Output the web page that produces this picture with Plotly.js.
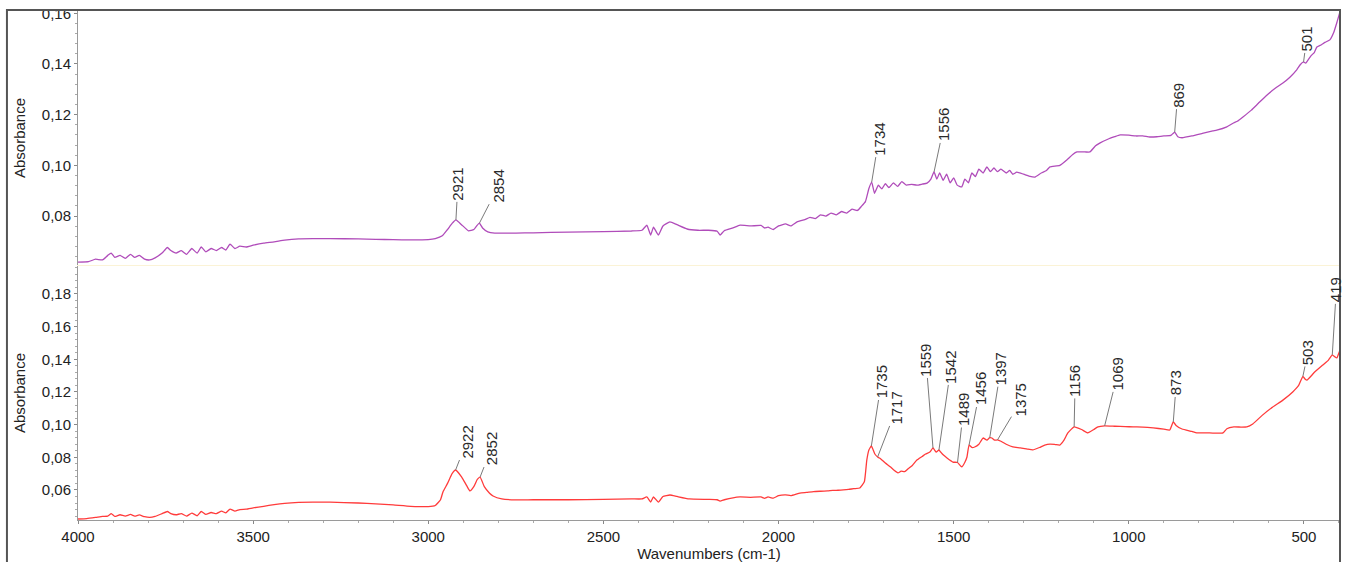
<!DOCTYPE html>
<html>
<head>
<meta charset="utf-8">
<script src="https://cdn.plot.ly/plotly-3.0.1.min.js"></script>
<style>html,body{margin:0;padding:0;background:#fff;}#chart{width:1346px;height:562px;}</style>
</head>
<body>
<div id="chart"></div>
<script>
// ---- Top spectrum (purple) ----
const topWn = [4000,3970,3950,3930,3915,3905,3895,3880,3865,3850,3838,3825,3810,3795,3780,3760,3745,3735,3720,3705,3690,3675,3660,3648,3635,3620,3605,3590,3578,3566,3552,3538,3520,3500,3470,3440,3410,3370,3330,3280,3200,3150,3100,3050,3000,2980,2960,2945,2932,2921,2905,2885,2870,2862,2854,2845,2830,2810,2750,2700,2600,2500,2420,2390,2376,2365,2357,2343,2330,2310,2290,2261,2230,2200,2175,2167,2155,2130,2110,2080,2050,2040,2030,2015,2000,1980,1965,1947,1925,1910,1895,1880,1865,1850,1835,1820,1805,1790,1775,1763,1752,1742,1734,1726,1715,1705,1695,1685,1672,1660,1648,1635,1620,1605,1590,1576,1565,1556,1548,1540,1530,1520,1510,1500,1490,1477,1468,1458,1448,1438,1428,1416,1405,1395,1385,1375,1365,1350,1340,1331,1320,1300,1285,1268,1250,1235,1225,1197,1175,1160,1148,1125,1111,1095,1083,1060,1040,1025,1000,980,960,940,920,900,880,869,860,848,820,790,760,749,720,700,690,674,650,630,606,580,560,540,520,510,501,495,480,470,463,450,440,426,415,405,398];
const topAbs = [0.0618,0.0620,0.0630,0.0627,0.0645,0.0654,0.0637,0.0645,0.0633,0.0649,0.0637,0.0645,0.0630,0.0627,0.0635,0.0654,0.0676,0.0664,0.0654,0.0664,0.0649,0.0672,0.0654,0.0678,0.0659,0.0672,0.0664,0.0676,0.0666,0.0689,0.0672,0.0681,0.0678,0.0685,0.0693,0.0698,0.0705,0.0710,0.0711,0.0711,0.0710,0.0708,0.0707,0.0706,0.0707,0.0711,0.0722,0.0747,0.0771,0.0785,0.0766,0.0742,0.0747,0.0761,0.0772,0.0753,0.0738,0.0733,0.0733,0.0734,0.0737,0.0739,0.0741,0.0744,0.0764,0.0725,0.0756,0.0725,0.0761,0.0777,0.0766,0.0749,0.0744,0.0744,0.0740,0.0725,0.0742,0.0753,0.0764,0.0761,0.0763,0.0753,0.0756,0.0747,0.0761,0.0769,0.0761,0.0777,0.0786,0.0795,0.0790,0.0805,0.0800,0.0812,0.0805,0.0818,0.0812,0.0827,0.0822,0.0839,0.0857,0.0909,0.0934,0.0890,0.0922,0.0907,0.0928,0.0912,0.0931,0.0917,0.0936,0.0922,0.0925,0.0922,0.0926,0.0930,0.0946,0.0974,0.0946,0.0970,0.0941,0.0965,0.0931,0.0951,0.0922,0.0915,0.0946,0.0931,0.0970,0.0956,0.0985,0.0970,0.0994,0.0975,0.0990,0.0975,0.0985,0.0970,0.0980,0.0965,0.0973,0.0965,0.0958,0.0954,0.0970,0.0980,0.0994,0.1000,0.1024,0.1043,0.1053,0.1053,0.1053,0.1077,0.1088,0.1103,0.1113,0.1120,0.1119,0.1116,0.1116,0.1112,0.1113,0.1116,0.1118,0.1131,0.1113,0.1109,0.1116,0.1126,0.1136,0.1139,0.1152,0.1168,0.1174,0.1191,0.1218,0.1245,0.1277,0.1306,0.1325,0.1348,0.1378,0.1398,0.1408,0.1403,0.1432,0.1446,0.1467,0.1476,0.1485,0.1495,0.1524,0.1568,0.1601];

// ---- Bottom spectrum (red) ----
const botWn = [4000,3975,3950,3930,3915,3905,3895,3880,3865,3850,3838,3825,3810,3795,3780,3760,3745,3735,3720,3705,3690,3675,3660,3648,3635,3620,3605,3590,3578,3566,3552,3538,3520,3500,3470,3440,3410,3370,3330,3280,3200,3150,3100,3050,3000,2980,2965,2958,2945,2932,2922,2905,2890,2881,2870,2860,2852,2840,2825,2815,2790,2750,2700,2600,2500,2420,2390,2376,2365,2357,2343,2330,2310,2290,2255,2200,2175,2167,2155,2130,2110,2080,2050,2040,2030,2015,2000,1980,1965,1939,1920,1900,1880,1860,1845,1830,1815,1800,1785,1768,1755,1748,1742,1735,1725,1717,1708,1695,1680,1670,1659,1650,1640,1630,1618,1605,1590,1580,1568,1559,1550,1542,1537,1530,1519,1502,1489,1477,1468,1462,1456,1448,1440,1428,1416,1405,1397,1391,1383,1375,1365,1350,1331,1310,1290,1274,1255,1240,1225,1210,1197,1185,1174,1156,1135,1117,1100,1088,1069,1040,1010,988,960,930,900,883,873,865,848,820,806,780,760,731,720,700,680,663,646,620,589,560,532,515,503,497,491,470,446,430,419,412,406,398,392];
const botAbs = [0.0422,0.0425,0.0432,0.0438,0.0440,0.0455,0.0438,0.0448,0.0440,0.0450,0.0440,0.0447,0.0436,0.0432,0.0438,0.0455,0.0468,0.0455,0.0448,0.0455,0.0440,0.0458,0.0442,0.0468,0.0450,0.0462,0.0455,0.0470,0.0460,0.0483,0.0470,0.0480,0.0482,0.0490,0.0500,0.0510,0.0518,0.0524,0.0526,0.0525,0.0520,0.0515,0.0508,0.0500,0.0498,0.0505,0.0540,0.0588,0.0640,0.0700,0.0722,0.0680,0.0625,0.0594,0.0620,0.0665,0.0679,0.0620,0.0580,0.0563,0.0545,0.0539,0.0540,0.0540,0.0542,0.0545,0.0545,0.0557,0.0526,0.0557,0.0526,0.0560,0.0569,0.0560,0.0545,0.0542,0.0540,0.0532,0.0540,0.0552,0.0557,0.0555,0.0557,0.0548,0.0557,0.0550,0.0565,0.0570,0.0565,0.0581,0.0585,0.0590,0.0592,0.0594,0.0597,0.0598,0.0600,0.0603,0.0608,0.0612,0.0650,0.0783,0.0845,0.0869,0.0820,0.0802,0.0790,0.0765,0.0740,0.0720,0.0704,0.0715,0.0712,0.0730,0.0750,0.0783,0.0805,0.0820,0.0832,0.0857,0.0832,0.0845,0.0832,0.0815,0.0796,0.0771,0.0768,0.0741,0.0770,0.0802,0.0875,0.0860,0.0863,0.0880,0.0918,0.0905,0.0920,0.0918,0.0905,0.0906,0.0898,0.0880,0.0863,0.0858,0.0850,0.0845,0.0860,0.0875,0.0881,0.0878,0.0875,0.0905,0.0949,0.0986,0.0970,0.0949,0.0970,0.0986,0.0992,0.0990,0.0988,0.0986,0.0985,0.0980,0.0972,0.0967,0.1016,0.0995,0.0973,0.0958,0.0949,0.0950,0.0948,0.0949,0.0975,0.0986,0.0985,0.0986,0.1004,0.1055,0.1108,0.1150,0.1200,0.1240,0.1295,0.1280,0.1273,0.1320,0.1365,0.1395,0.1427,0.1415,0.1408,0.1450,0.1470];

// ---- Peak labels ----
const topPeaks = [2921, 2854, 1734, 1556, 869, 501];
const botPeaks = [2922, 2852, 1735, 1717, 1559, 1542, 1489, 1456, 1397, 1375, 1156, 1069, 873, 503, 419];

// label offsets (pixels) – layout only
const topLabelOffsets = [[2,-36],[19,-37],[7,-43],[10,-47],[3,-37],[3,-23]];
const botLabelOffsets = [[11,-28],[11,-28],[10,-64],[19,-49],[-7,-88],[12,-83],[6,-53],[11,-56],[11,-69],[24,-40],[1,-46],[13,-52],[3,-39],[5,-24],[4,-65]];

function nearestY(xs, ys, p) {
  let best = 0;
  for (let i = 1; i < xs.length; i++) if (Math.abs(xs[i]-p) < Math.abs(xs[best]-p)) best = i;
  return ys[best];
}
function makeAnn(peaks, offs, xs, ys, yref) {
  return peaks.map((p, i) => ({
    x: p, y: nearestY(xs, ys, p), xref: 'x', yref: yref,
    text: String(p), textangle: -90, showarrow: true, arrowhead: 0,
    arrowwidth: 1, arrowcolor: '#7a7a7a', standoff: 0,
    ax: offs[i][0], ay: offs[i][1],
    font: {family: 'Liberation Sans, Arial, sans-serif', size: 15, color: '#2a2a2a'}
  }));
}

const font = {family: 'Liberation Sans, Arial, sans-serif', size: 15, color: '#222'};

const traces = [
  {x: topWn, y: topAbs, xaxis: 'x2', yaxis: 'y2', type: 'scatter', mode: 'lines',
   line: {color: '#b04cba', width: 1.3, shape: 'spline', smoothing: 0.4}, hoverinfo: 'skip'},
  {x: botWn, y: botAbs, xaxis: 'x', yaxis: 'y', type: 'scatter', mode: 'lines',
   line: {color: '#ff3b3b', width: 1.3, shape: 'spline', smoothing: 0.4}, hoverinfo: 'skip'}
];

const yCommon = {
  showgrid: false, zeroline: false, showline: true, linecolor: '#9a9a9a', linewidth: 1,
  ticks: 'outside', ticklen: 3, tickcolor: '#888', tickformat: '.2f', dtick: 0.02,
  minor: {ticks: 'outside', ticklen: 2, tickcolor: '#aaa', dtick: 0.004},
  tickfont: font, title: {text: 'Absorbance', font: {family: font.family, size: 15, color: '#222'}, standoff: 12}
};

const layout = {
  width: 1346, height: 562,
  margin: {l: 78, r: 6, t: 11, b: 42},
  paper_bgcolor: '#fff', plot_bgcolor: '#fff',
  separators: ', ',
  showlegend: false,
  font: font,
  xaxis: {
    domain: [0, 1], range: [4000, 397], anchor: 'y',
    showgrid: false, zeroline: false, showline: true, linecolor: '#9a9a9a', linewidth: 1,
    ticks: 'outside', ticklen: 3, tickcolor: '#888', tick0: 0, dtick: 500,
    minor: {ticks: 'outside', ticklen: 2, tickcolor: '#aaa', dtick: 100},
    tickfont: font,
    title: {text: 'Wavenumbers (cm-1)', font: font, standoff: 6}
  },
  xaxis2: {
    domain: [0, 1], range: [4000, 397], anchor: 'y2', matches: 'x',
    showgrid: false, zeroline: false, showline: true, linecolor: '#fbf3d6', linewidth: 1,
    showticklabels: false, ticks: ''
  },
  yaxis: Object.assign({}, yCommon, {domain: [0, 0.499], range: [0.0416, 0.1971], anchor: 'x'}),
  yaxis2: Object.assign({}, yCommon, {domain: [0.501, 1], range: [0.0607, 0.1609], anchor: 'x2'}),
  annotations: makeAnn(topPeaks, topLabelOffsets, topWn, topAbs, 'y2')
    .concat(makeAnn(botPeaks, botLabelOffsets, botWn, botAbs, 'y')),
  shapes: [
    {type: 'rect', xref: 'paper', yref: 'paper', x0: -0.0563, x1: 1.0, y0: -0.2, y1: 1.002,
     line: {color: '#555', width: 2}, fillcolor: 'rgba(0,0,0,0)', layer: 'above'}
  ]
};

Plotly.newPlot('chart', traces, layout, {staticPlot: true, displayModeBar: false});
</script>
</body>
</html>
